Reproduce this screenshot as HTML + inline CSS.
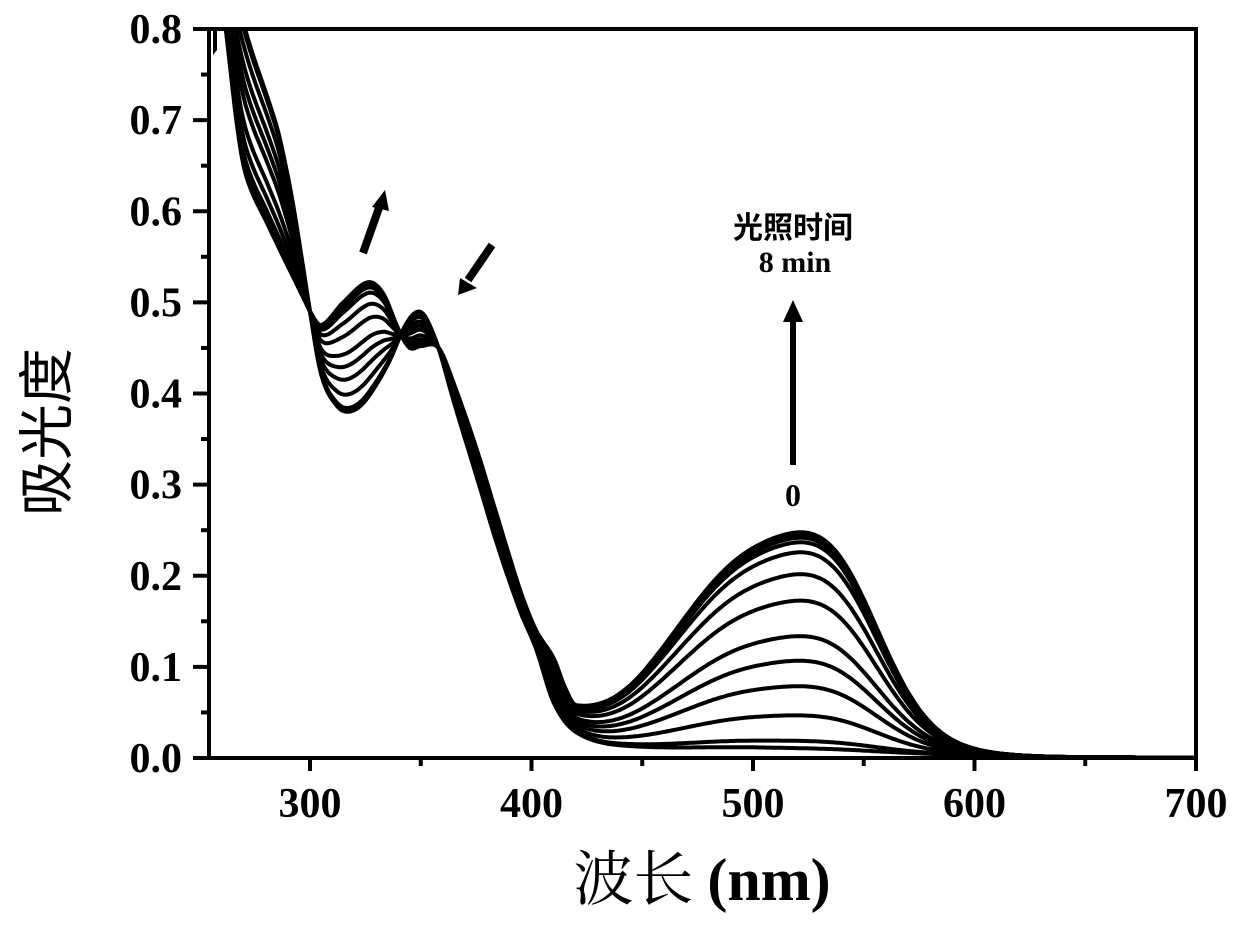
<!DOCTYPE html>
<html><head><meta charset="utf-8"><style>
html,body{margin:0;padding:0;background:#fff;}
svg{display:block;}
</style></head><body>
<svg id="s" width="1240" height="933" viewBox="0 0 1240 933" xmlns="http://www.w3.org/2000/svg">
<defs><clipPath id="c"><rect x="211" y="31" width="983" height="725"/></clipPath></defs>
<g id="curves" clip-path="url(#c)" fill="none" stroke="#000" stroke-width="4" stroke-linejoin="round"></g>
<path d="M213 30 L213 55 L217 50 L217 30Z" fill="#000"/>
<rect x="209" y="29" width="987" height="729" fill="none" stroke="#000" stroke-width="4"/>
<g id="ticks" stroke="#000" stroke-width="4"></g>
<g font-family="Liberation Serif, serif" font-weight="bold" font-size="42" fill="#000" id="labels"></g>
<text x="43" y="432" transform="rotate(-90 43 432)" text-anchor="middle" dominant-baseline="central" font-family="Noto Sans CJK SC, sans-serif" font-size="56">吸光度</text>
<text x="702" y="900" text-anchor="middle" font-size="60"><tspan font-family="Noto Serif CJK SC, serif">波长</tspan><tspan font-family="Liberation Serif, serif" font-weight="bold" dx="14">(nm)</tspan></text>
<text x="793" y="238" text-anchor="middle" font-family="Noto Sans CJK SC, sans-serif" font-weight="bold" font-size="30">光照时间</text>
<text x="795" y="272" text-anchor="middle" font-family="Liberation Serif, serif" font-weight="bold" font-size="30">8 min</text>
<text x="793" y="506" text-anchor="middle" font-family="Liberation Serif, serif" font-weight="bold" font-size="32">0</text>
<line x1="793" y1="465" x2="793" y2="318" stroke="#000" stroke-width="6"/>
<path d="M783 322 L793 300 L803 322Z" fill="#000"/>
<line x1="363" y1="253" x2="380" y2="205" stroke="#000" stroke-width="8"/>
<path d="M372 207 L385 190 L389 211Z" fill="#000"/>
<line x1="492" y1="245" x2="468" y2="280" stroke="#000" stroke-width="8"/>
<path d="M460 278 L458 295 L477 288Z" fill="#000"/>
</svg>
<script>
var X=function(l){return 310+(l-300)*2.215;};
var Y=function(a){return 758-a*911.25;};
var U0=[[258,0.95],[261,0.9],[271,0.8],[285,0.695],[290,0.64],[294,0.585],[300,0.49],[305,0.42],[312,0.385],[318,0.378],[325,0.39],[335,0.43],[343,0.475],[348,0.49],[352,0.485],[358,0.45],[365,0.39],[375,0.31],[385,0.23],[395,0.16],[402,0.12],[410,0.06],[420,0.028],[440,0.013],[500,0.008],[600,0.003],[640,0.001],[700,0.0005],[720,0.0005]];
var U1=[[258,0.86],[261,0.82],[262,0.8],[267,0.695],[271,0.64],[281,0.585],[298,0.5],[300,0.49],[305,0.475],[315,0.5],[326,0.522],[333,0.51],[340,0.47],[345,0.45],[350,0.452],[358,0.45],[365,0.41],[375,0.34],[385,0.26],[395,0.18],[402,0.135],[410,0.1],[415,0.065],[420,0.04],[450,0.015],[600,0.003],[640,0.001],[700,0.0005],[720,0.0005]];
function interp(P,l){for(var i=0;i<P.length-1;i++){if(l<=P[i+1][0]){var x0=P[i][0],x1=P[i+1][0],y0=P[i][1],y1=P[i+1][1];
var pm=P[Math.max(i-1,0)],pp=P[Math.min(i+2,P.length-1)];
var m0=(y1-pm[1])/(x1-pm[0]),m1=(pp[1]-y0)/(pp[0]-x0);var h=x1-x0,t=(l-x0)/h;
var t2=t*t,t3=t2*t;return (2*t3-3*t2+1)*y0+(t3-2*t2+t)*h*m0+(-2*t3+3*t2)*y1+(t3-t2)*h*m1;}}return P[P.length-1][1];}
function bandRaw(l){return Math.exp(-Math.pow((l-502)/37,2)/2)+0.42*Math.exp(-Math.pow((l-540)/20,2)/2);}
var mx=0;for(var l=400;l<650;l++){mx=Math.max(mx,bandRaw(l));}
var S=[0.241,0.238,0.235,0.23,0.219,0.195,0.166,0.127,0.1,0.072,0.04,0.012,0.004];
var g=document.getElementById('curves'),out='';
S.forEach(function(s){var t=s/0.241,d='';
for(var l=258;l<=700;l+=1){var a=(1-t)*interp(U0,l)+t*interp(U1,l)+s*bandRaw(l)/mx;
d+=(l==258?'M':'L')+X(l).toFixed(1)+' '+Y(a).toFixed(1);}
out+='<path d="'+d+'"/>';});
g.innerHTML=out;
var tk='',lb='';
for(var i=0;i<=16;i++){var v=i*0.05,y=Y(v);if(i%2==0){tk+='<line x1="193" y1="'+y+'" x2="209" y2="'+y+'"/>';lb+='<text x="182" y="'+(y+14)+'" text-anchor="end">'+(v.toFixed(1))+'</text>';}else tk+='<line x1="201" y1="'+y+'" x2="209" y2="'+y+'"/>';}
for(var n=300;n<=700;n+=50){var x=X(n);if(n%100==0){tk+='<line x1="'+x+'" y1="758" x2="'+x+'" y2="771"/>';lb+='<text x="'+x+'" y="817" text-anchor="middle">'+n+'</text>';}else tk+='<line x1="'+x+'" y1="758" x2="'+x+'" y2="766"/>';}
document.getElementById('ticks').innerHTML=tk;document.getElementById('labels').innerHTML=lb;
</script>
</body></html>
